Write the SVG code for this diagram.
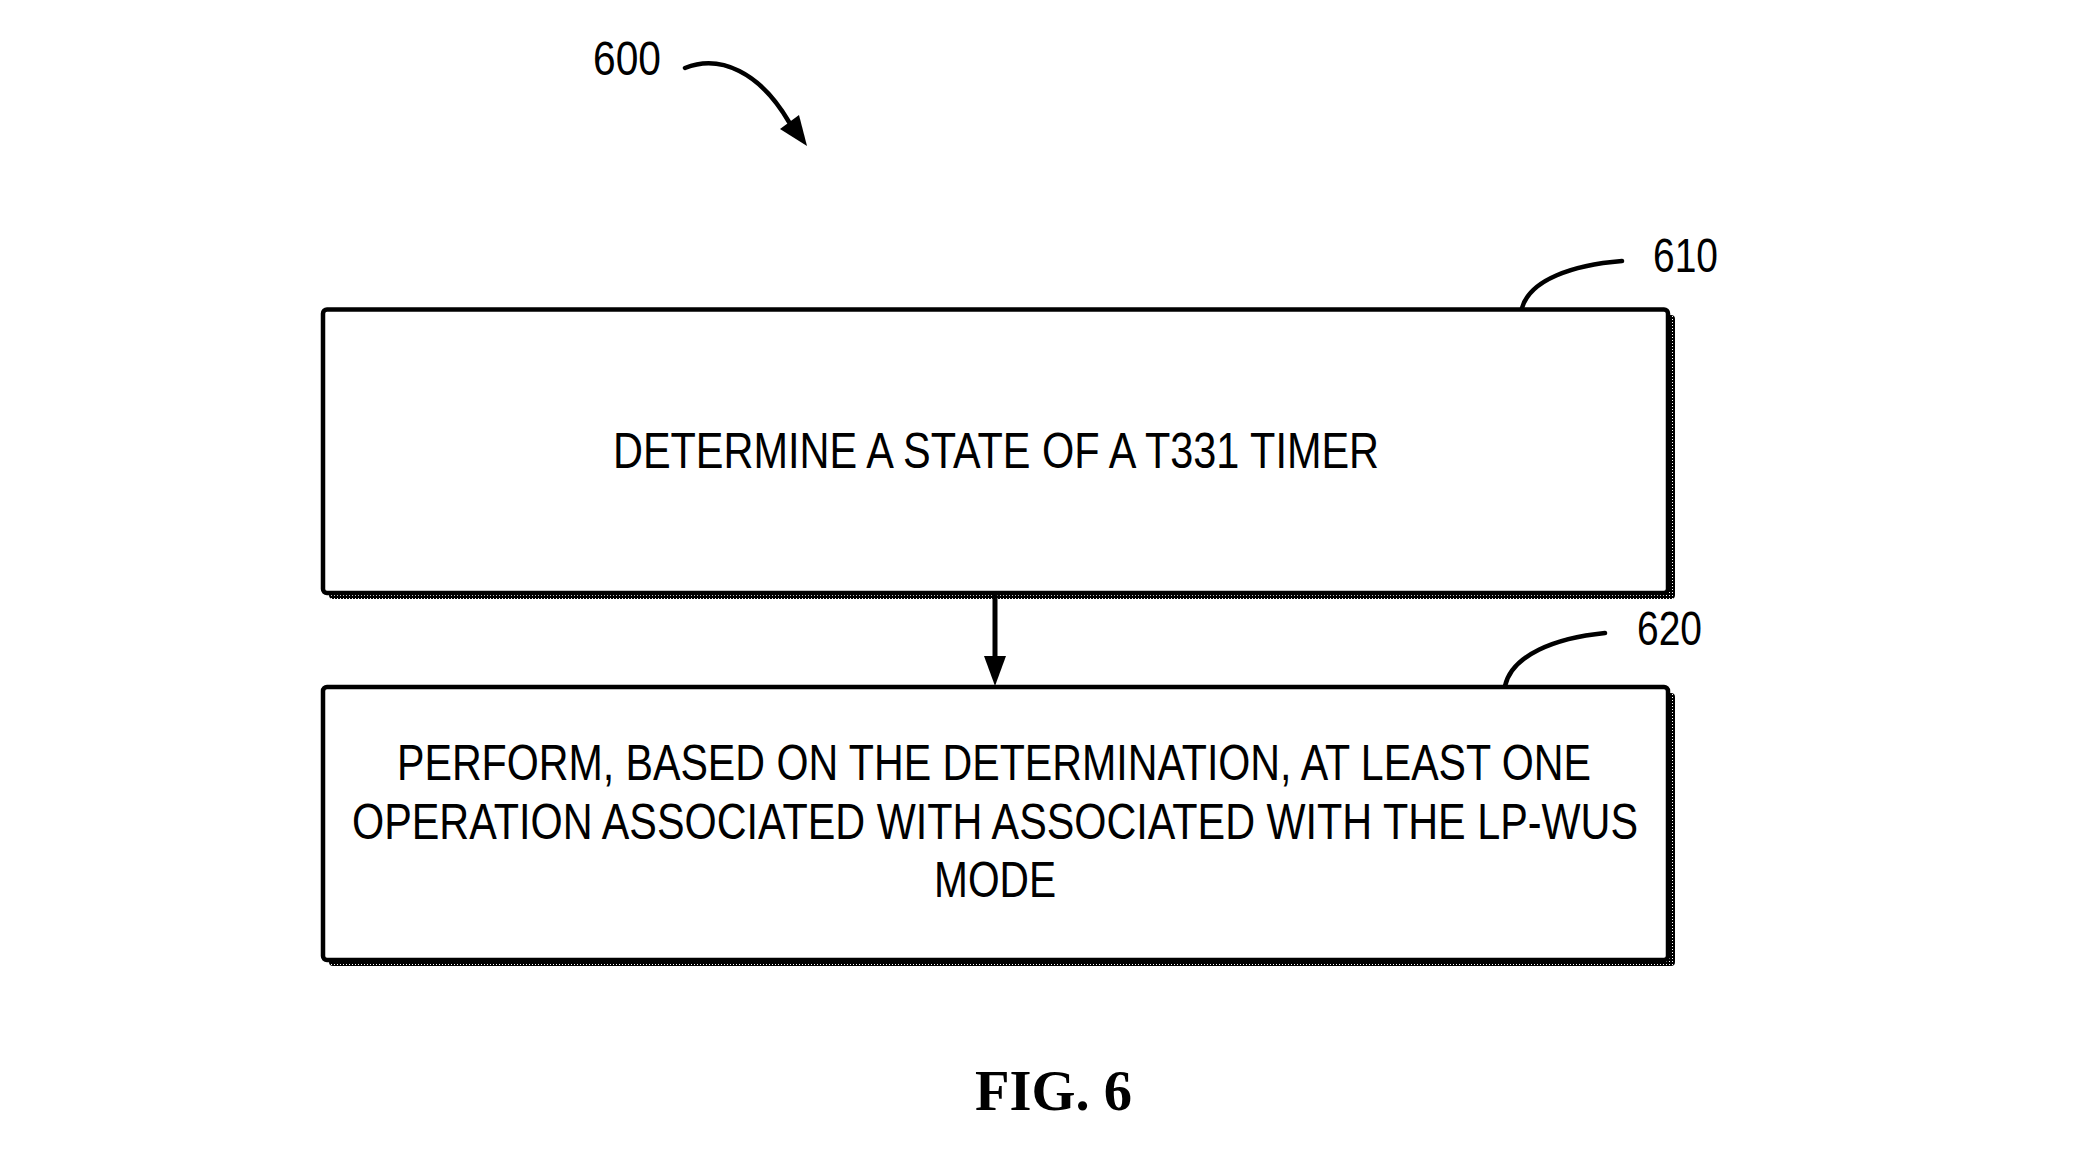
<svg xmlns="http://www.w3.org/2000/svg" width="2083" height="1169" viewBox="0 0 2083 1169">
<style>
.box{fill:#fff;stroke:#000;stroke-width:4.5}
.shadow{fill:url(#dither)}
.t{font-family:"Liberation Sans",Arial,sans-serif;font-size:50px;fill:#000}
.lbl{font-family:"Liberation Sans",Arial,sans-serif;font-size:48px;fill:#000}
.lead{fill:none;stroke:#000;stroke-width:4.5;stroke-linecap:round}
.fig{font-family:"Liberation Serif","Times New Roman",serif;font-size:56px;font-weight:bold;fill:#000}
</style>
<defs>
<pattern id="dither" width="3" height="3" patternUnits="userSpaceOnUse">
<rect width="3" height="3" fill="#000"/>
<rect x="1" y="1" width="1" height="1" fill="#fff"/>
</pattern>
</defs>
<rect width="2083" height="1169" fill="#fff"/>
<g id="label-600">
<text class="lbl" x="593" y="75" textLength="68" lengthAdjust="spacingAndGlyphs">600</text>
<path class="lead" d="M685,68 C720,54 760,72 789,122"/>
<polygon points="807,146 780,129 799,115" fill="#000"/>
</g>
<g id="node-610">
<rect class="shadow" x="329" y="315" width="1346" height="284" rx="4"/>
<rect class="box" x="323" y="309.5" width="1345" height="283.5" rx="4"/>
<text class="t" x="996" y="467.5" text-anchor="middle" textLength="766" lengthAdjust="spacingAndGlyphs">DETERMINE A STATE OF A T331 TIMER</text>
<path class="lead" d="M1622,261 C1572,265 1530,280 1522,308"/>
<text class="lbl" x="1653" y="271.5" textLength="65" lengthAdjust="spacingAndGlyphs">610</text>
</g>
<g id="node-620">
<rect class="shadow" x="329" y="693" width="1346" height="273" rx="4"/>
<rect class="box" x="323" y="687" width="1345" height="273" rx="4"/>
<text class="t" x="994" y="780" text-anchor="middle" textLength="1194" lengthAdjust="spacingAndGlyphs">PERFORM, BASED ON THE DETERMINATION, AT LEAST ONE</text>
<text class="t" x="995" y="838.5" text-anchor="middle" textLength="1286" lengthAdjust="spacingAndGlyphs">OPERATION ASSOCIATED WITH ASSOCIATED WITH THE LP-WUS</text>
<text class="t" x="995" y="897" text-anchor="middle" textLength="122" lengthAdjust="spacingAndGlyphs">MODE</text>
<path class="lead" d="M1605,633 C1555,638 1512,655 1505,686"/>
<text class="lbl" x="1637" y="645" textLength="65" lengthAdjust="spacingAndGlyphs">620</text>
</g>
<g id="connectors">
<line x1="995" y1="594" x2="995" y2="660" stroke="#000" stroke-width="5"/>
<polygon points="984,656 1006,656 995,686" fill="#000"/>
</g>
<text class="fig" x="975" y="1110" textLength="157" lengthAdjust="spacingAndGlyphs">FIG. 6</text>
</svg>
